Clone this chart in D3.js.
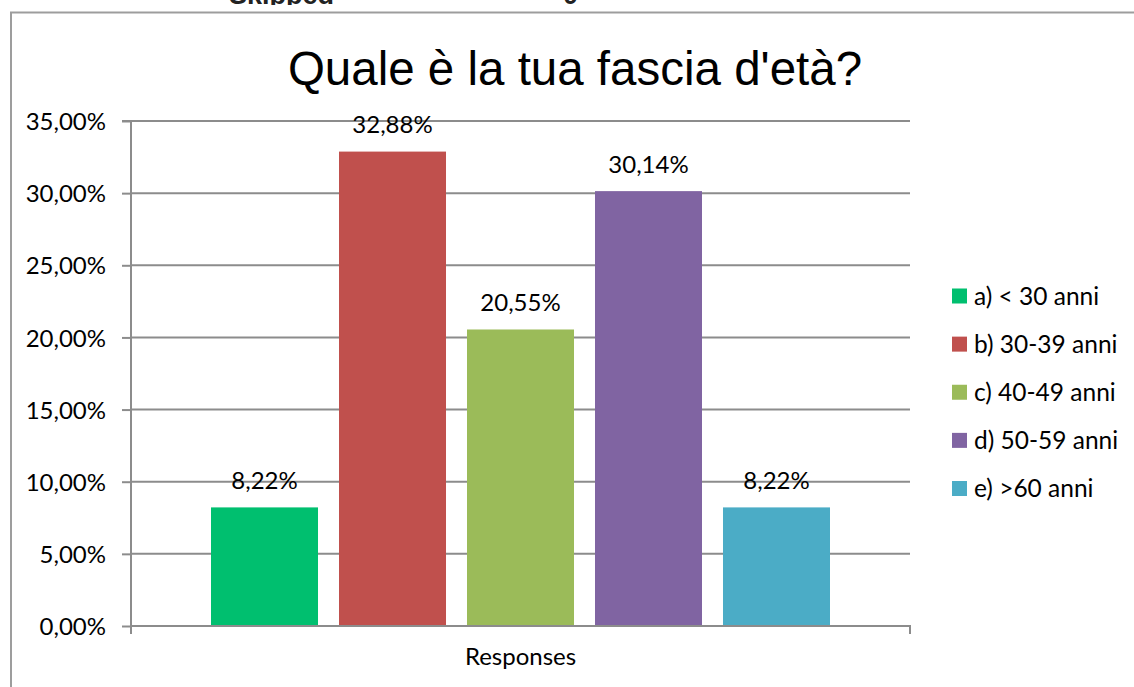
<!DOCTYPE html>
<html>
<head>
<meta charset="utf-8">
<script src="https://cdn.jsdelivr.net/npm/d3@7"></script>
<style>
  html, body { margin: 0; padding: 0; background: #fff; }
  svg { display: block; }
</style>
</head>
<body>
<svg id="chart" width="1134" height="687"></svg>
<script>
const title = "Quale è la tua fascia d'età?";
const category = ["Responses"];
const seriesNames = ["a) < 30 anni", "b) 30-39 anni", "c) 40-49 anni", "d) 50-59 anni", "e) >60 anni"];
const seriesValues = [0.0822, 0.3288, 0.2055, 0.3014, 0.0822];
const seriesColors = ["#00BF6F", "#C0504D", "#9BBB59", "#8064A2", "#4BACC6"];
const yTicks = [0, 0.05, 0.10, 0.15, 0.20, 0.25, 0.30, 0.35];
const headerTexts = [{ t: "Skipped", x: 229 }, { t: "0", x: 563 }];

const svg = d3.select("#chart");
const W = 1134, H = 687;
const plot = { left: 131, right: 910, top: 121, bottom: 626 };
const labelFont = "Lato, 'Open Sans', sans-serif";
const gridColor = "#8c8c8c";

// Cropped header text (only its bottom edge is visible)
svg.selectAll("text.header").data(headerTexts).join("text")
  .attr("class", "header")
  .attr("x", d => d.x).attr("y", 4)
  .attr("font-family", "'Liberation Sans', Arial, sans-serif")
  .attr("font-weight", "bold").attr("font-size", 27)
  .attr("fill", "#222")
  .text(d => d.t);
// cover below the header (chart image sits on top)
svg.append("rect").attr("x", 0).attr("y", 5).attr("width", W).attr("height", H - 5).attr("fill", "#fff");

// chart border (top and left edges visible)
svg.append("path")
  .attr("d", `M11,${H} L11,12.5 L${W},12.5`)
  .attr("fill", "none").attr("stroke", "#9d9d9d").attr("stroke-width", 2);

// Title
svg.append("text")
  .attr("x", 575).attr("y", 85)
  .attr("text-anchor", "middle")
  .attr("font-family", "'Liberation Sans', Arial, sans-serif")
  .attr("font-size", 47.5)
  .attr("fill", "#000")
  .text(title);

// Scales
const y = d3.scaleLinear().domain([0, 0.35]).range([plot.bottom, plot.top]);
const xCat = d3.scaleBand().domain(category).range([plot.left, plot.right]).paddingInner(0).paddingOuter(0);
const groupPad = 80;
const xSeries = d3.scaleBand().domain(seriesNames)
  .range([xCat(category[0]) + groupPad, xCat(category[0]) + xCat.bandwidth() - groupPad])
  .paddingInner(0.164).paddingOuter(0);

const fmtPct = v => (v * 100).toFixed(2).replace(".", ",") + "%";

// Gridlines
svg.append("g").selectAll("line").data(yTicks.filter(t => t > 0)).join("line")
  .attr("x1", plot.left).attr("x2", plot.right)
  .attr("y1", d => y(d)).attr("y2", d => y(d))
  .attr("stroke", gridColor).attr("stroke-width", 2);

// Y axis
const yAxis = d3.axisLeft(y).tickValues(yTicks).tickSize(9).tickPadding(16).tickFormat(fmtPct);
const gy = svg.append("g").attr("transform", `translate(${plot.left},0)`).call(yAxis);
gy.select(".domain").attr("stroke", gridColor).attr("stroke-width", 2)
  .attr("d", `M-9,${plot.top}H0V${plot.bottom + 8}`);
gy.selectAll(".tick line").attr("stroke", gridColor).attr("stroke-width", 2);
gy.selectAll(".tick text").attr("font-family", labelFont).attr("font-size", 24).attr("fill", "#000").attr("dy", "0.36em");

// X axis
const xAxis = d3.axisBottom(xCat).tickSize(0).tickPadding(22);
const gx = svg.append("g").attr("transform", `translate(0,${plot.bottom})`).call(xAxis);
gx.select(".domain").attr("stroke", gridColor).attr("stroke-width", 2)
  .attr("d", `M${plot.left},8V0H${plot.right}V8`);
gx.selectAll(".tick text").attr("font-family", labelFont).attr("font-size", 24).attr("fill", "#000");

// Bars
svg.append("g").selectAll("rect").data(seriesNames).join("rect")
  .attr("x", d => xSeries(d))
  .attr("width", xSeries.bandwidth())
  .attr("y", (d, i) => y(seriesValues[i]))
  .attr("height", (d, i) => y(0) - y(seriesValues[i]))
  .attr("fill", (d, i) => seriesColors[i]);

// Redraw baseline on top of bars
svg.append("line").attr("x1", plot.left).attr("x2", plot.right)
  .attr("y1", y(0)).attr("y2", y(0)).attr("stroke", gridColor).attr("stroke-width", 2);

// Value labels
svg.append("g").selectAll("text").data(seriesNames).join("text")
  .attr("x", d => xSeries(d) + xSeries.bandwidth() / 2)
  .attr("y", (d, i) => y(seriesValues[i]) - 18.5)
  .attr("text-anchor", "middle")
  .attr("font-family", labelFont).attr("font-size", 24).attr("fill", "#000")
  .text((d, i) => fmtPct(seriesValues[i]));

// Legend
const legY = d3.scalePoint().domain(seriesNames).range([296, 488.5]);
const leg = svg.append("g").selectAll("g").data(seriesNames).join("g")
  .attr("transform", d => `translate(952,${legY(d)})`);
leg.append("rect").attr("x", 0).attr("y", -7.5).attr("width", 15).attr("height", 15)
  .attr("fill", (d, i) => seriesColors[i]);
leg.append("text").attr("x", 22).attr("y", 0).attr("dy", "0.36em")
  .attr("font-family", labelFont).attr("font-size", 24.5).attr("fill", "#000")
  .text(d => d);
</script>
</body>
</html>
